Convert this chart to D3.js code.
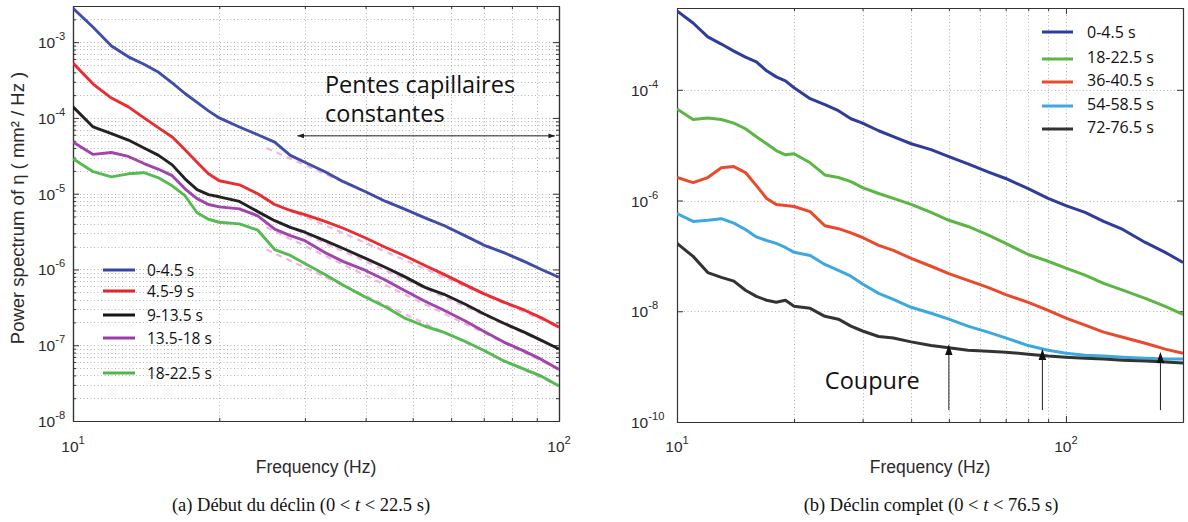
<!DOCTYPE html>
<html><head><meta charset="utf-8">
<script src="https://cdn.jsdelivr.net/npm/d3@7"></script>
<style>body{margin:0;background:#fff}svg{display:block}</style>
</head><body>
<svg id="c" width="1188" height="522"></svg>
<script>
// ---------- DATA ----------
const leftFreq = [10,11,12,13,14,15,16,17,18,19,20,22,24,26,28,30,33,36,40,44,48,53,58,64,70,77,85,92,100];
const leftSeriesNames = ["0-4.5 s","4.5-9 s","9-13.5 s","13.5-18 s","18-22.5 s"];
const left_0_45 = [2.8e-3,1.57e-3,8.9e-4,6.4e-4,5.1e-4,4.0e-4,2.9e-4,2.1e-4,1.6e-4,1.24e-4,1.0e-4,7.6e-5,6.0e-5,4.8e-5,3.2e-5,2.6e-5,1.95e-5,1.44e-5,1.06e-5,7.9e-6,6.3e-6,4.8e-6,3.8e-6,2.8e-6,2.1e-6,1.67e-6,1.27e-6,1.0e-6,7.9e-7];
const left_45_9 = [5.3e-4,2.8e-4,1.83e-4,1.4e-4,1.0e-4,7.4e-5,5.6e-5,3.8e-5,2.6e-5,1.83e-5,1.48e-5,1.31e-5,1.0e-5,7.2e-6,6.0e-6,5.3e-6,4.3e-6,3.5e-6,2.6e-6,1.95e-6,1.53e-6,1.13e-6,8.6e-7,6.3e-7,4.8e-7,3.7e-7,2.9e-7,2.3e-7,1.73e-7];
const left_9_135 = [1.4e-4,7.6e-5,6.2e-5,5.1e-5,4.0e-5,3.2e-5,2.4e-5,1.57e-5,1.13e-5,9.7e-6,9.1e-6,7.9e-6,5.8e-6,4.4e-6,3.6e-6,3.1e-6,2.4e-6,1.89e-6,1.4e-6,1.06e-6,8.1e-7,5.8e-7,4.7e-7,3.5e-7,2.6e-7,1.95e-7,1.48e-7,1.16e-7,8.9e-8];
const left_135_18 = [4.8e-5,3.3e-5,3.5e-5,3.1e-5,2.5e-5,2.1e-5,1.73e-5,1.16e-5,8.6e-6,7.2e-6,6.7e-6,6.3e-6,5.1e-6,3.4e-6,2.8e-6,2.4e-6,1.67e-6,1.27e-6,9.7e-7,7.2e-7,5.3e-7,3.8e-7,2.9e-7,2.1e-7,1.53e-7,1.1e-7,8.3e-8,6.5e-8,4.8e-8];
const left_18_225 = [2.9e-5,1.95e-5,1.67e-5,1.83e-5,1.89e-5,1.62e-5,1.27e-5,9.4e-6,5.6e-6,4.6e-6,4.2e-6,4.0e-6,3.3e-6,1.83e-6,1.53e-6,1.2e-6,8.6e-7,6.2e-7,4.3e-7,3.2e-7,2.3e-7,1.78e-7,1.48e-7,1.13e-7,8.6e-8,6.2e-8,4.8e-8,3.9e-8,2.9e-8];
// capillary power-law fits (pink dashed), endpoints
const fitFreq = [25, 100];
const fitValues = [[4.0e-5,7.9e-7],[8.3e-6,1.73e-7],[5.0e-6,8.9e-8],[3.6e-6,4.8e-8],[1.83e-6,2.9e-8]];

const rightFreq = [10,11,12,13,14,15,16,17,18,19,20,22,24,26,28,30,33,36,40,45,50,56,63,70,80,90,100,112,125,140,160,180,200];
const rightSeriesNames = ["0-4.5 s","18-22.5 s","36-40.5 s","54-58.5 s","72-76.5 s"];
const right_0_45 = [2.65e-3,1.61e-3,9.0e-4,6.7e-4,5.0e-4,3.9e-4,3.2e-4,2.2e-4,1.71e-4,1.45e-4,1.09e-4,6.9e-5,5.4e-5,4.2e-5,3.0e-5,2.5e-5,1.82e-5,1.42e-5,1.06e-5,8.3e-6,6.2e-6,4.6e-6,3.3e-6,2.5e-6,1.64e-6,1.09e-6,8.1e-7,6.1e-7,4.2e-7,3.0e-7,1.75e-7,1.16e-7,7.6e-8];
const right_18_225 = [4.5e-5,2.9e-5,3.1e-5,2.9e-5,2.5e-5,1.98e-5,1.42e-5,1.06e-5,8.0e-6,6.7e-6,7.0e-6,4.8e-6,2.9e-6,2.6e-6,2.2e-6,1.71e-6,1.34e-6,1.09e-6,8.5e-7,6.1e-7,4.4e-7,3.4e-7,2.4e-7,1.68e-7,1.06e-7,8.0e-8,6.0e-8,4.5e-8,3.2e-8,2.4e-8,1.71e-8,1.23e-8,8.8e-9];
const right_36_405 = [2.6e-6,2.1e-6,2.6e-6,3.9e-6,4.1e-6,3.2e-6,1.86e-6,1.09e-6,8.5e-7,8.1e-7,7.8e-7,6.3e-7,3.5e-7,3.1e-7,2.6e-7,2.15e-7,1.55e-7,1.26e-7,9.0e-8,6.5e-8,4.8e-8,3.6e-8,2.7e-8,2.0e-8,1.45e-8,1.04e-8,7.5e-9,5.6e-9,4.2e-9,3.4e-9,2.65e-9,2.07e-9,1.75e-9];
const right_54_585 = [5.8e-7,4.2e-7,4.4e-7,4.7e-7,3.9e-7,3.0e-7,2.2e-7,1.9e-7,1.68e-7,1.42e-7,1.16e-7,1.02e-7,7.0e-8,5.5e-8,4.3e-8,3.1e-8,2.1e-8,1.64e-8,1.18e-8,9.2e-9,7.2e-9,5.4e-9,4.2e-9,3.3e-9,2.4e-9,1.98e-9,1.75e-9,1.61e-9,1.55e-9,1.48e-9,1.42e-9,1.37e-9,1.37e-9];
const right_72_765 = [1.68e-7,9.8e-8,5.0e-8,4.1e-8,3.5e-8,2.4e-8,1.86e-8,1.58e-8,1.45e-8,1.58e-8,1.23e-8,1.13e-8,8.1e-9,7.2e-9,5.4e-9,4.4e-9,3.5e-9,3.3e-9,2.8e-9,2.4e-9,2.2e-9,1.98e-9,1.9e-9,1.82e-9,1.68e-9,1.55e-9,1.48e-9,1.42e-9,1.37e-9,1.31e-9,1.26e-9,1.21e-9,1.16e-9];

// annotations (data coordinates)
const slopeArrowFreq = [29, 98];
const slopeArrowLevel = 5.8e-5;
const cutoffFreqs = [50, 87, 175];
const cutoffTips = [2.4e-9, 1.98e-9, 1.75e-9];
const cutoffBase = 1.64e-10;

const leftYTicks = [-8,-7,-6,-5,-4,-3];
const rightYTicks = [-10,-8,-6,-4];
const xTickExps = [1,2];

// ---------- STYLE ----------
const leftColors = ["#3545a3","#e82226","#161616","#9b3ba6","#4cb848"];
const rightColors = ["#2e3d9c","#5cb644","#ea4a2b","#3ca8e0","#333333"];

const svg = d3.select("#c");
const defs = svg.append("defs");
defs.append("marker").attr("id","ah").attr("viewBox","0 0 10 10").attr("refX",9).attr("refY",5)
  .attr("markerWidth",7).attr("markerHeight",7).attr("orient","auto-start-reverse").attr("markerUnits","userSpaceOnUse")
  .append("path").attr("d","M0,1.5 L10,5 L0,8.5 z").attr("fill","#222");
defs.append("marker").attr("id","ahb").attr("viewBox","0 0 10 10").attr("refX",9).attr("refY",5)
  .attr("markerWidth",11).attr("markerHeight",11).attr("orient","auto").attr("markerUnits","userSpaceOnUse")
  .append("path").attr("d","M0,1.5 L10,5 L0,8.5 z").attr("fill","#111");

function minorVals(lo, hi) {
  const v = [];
  for (let k = -12; k <= 3; k++) for (let m = 1; m <= 9; m++) {
    const x = m * Math.pow(10, k);
    if (x >= lo * 0.9999 && x <= hi * 1.0001) v.push(+x.toPrecision(3));
  }
  return v;
}

function supText(g, x, y, exp, anchor, fs) {
  const t = g.append("text").attr("x", x).attr("y", y).attr("text-anchor", anchor)
    .attr("font-family","Liberation Sans, Arial, sans-serif").attr("font-size", fs).attr("fill","#2a2a2a");
  t.append("tspan").text("10");
  t.append("tspan").attr("dy", -8).attr("font-size", fs * 0.72).text(exp);
  return t;
}

function panel(o) {
  const g = svg.append("g");
  const x = d3.scaleLog().domain(o.xd).range([o.x0, o.x1]);
  const y = d3.scaleLog().domain(o.yd).range([o.y1, o.y0]);
  const grid = g.append("g").attr("stroke","#b4b4b4").attr("stroke-width",1).attr("stroke-dasharray","1,2.5");
  grid.selectAll(".gx").data(o.xGrid).join("line")
    .attr("x1", d => Math.round(x(d)) + 0.5).attr("x2", d => Math.round(x(d)) + 0.5)
    .attr("y1", o.y0).attr("y2", o.y1);
  grid.selectAll(".gy").data(o.yGrid).join("line")
    .attr("y1", d => Math.round(y(d)) + 0.5).attr("y2", d => Math.round(y(d)) + 0.5)
    .attr("x1", o.x0).attr("x2", o.x1);

  const mk = (fn, sc, vals, size, tr) => {
    const s = g.append("g").attr("transform", tr)
      .call(fn(sc).tickValues(vals).tickSize(size).tickSizeOuter(0).tickFormat(""));
    s.select(".domain").attr("stroke","#333").attr("stroke-width",1.2);
    s.selectAll(".tick line").attr("stroke","#333");
  };
  const xMaj = xTickExps.map(e => Math.pow(10, e)).filter(v => v >= o.xd[0] && v <= o.xd[1]);
  const xMin = minorVals(o.xd[0], o.xd[1]).filter(v => !xMaj.includes(v));
  const yMaj = o.yTicks.map(e => Math.pow(10, e));
  mk(d3.axisBottom, x, xMaj, -6, `translate(0,${o.y1})`);
  mk(d3.axisBottom, x, xMin, -3, `translate(0,${o.y1})`);
  mk(d3.axisTop, x, xMaj, -6, `translate(0,${o.y0})`);
  mk(d3.axisTop, x, xMin, -3, `translate(0,${o.y0})`);
  mk(d3.axisLeft, y, yMaj, -6, `translate(${o.x0},0)`);
  mk(d3.axisRight, y, yMaj, -6, `translate(${o.x1},0)`);
  if (o.yMinorTicks) {
    const yMin = minorVals(o.yd[0], o.yd[1]).filter(v => !yMaj.some(m => Math.abs(m - v) / v < 1e-6));
    mk(d3.axisLeft, y, yMin, -3, `translate(${o.x0},0)`);
    mk(d3.axisRight, y, yMin, -3, `translate(${o.x1},0)`);
  }
  // tick labels
  o.yTicks.forEach(e => supText(g, o.yLabX, y(Math.pow(10, e)) + 6, "-" + (-e), "start", 15.5));
  xMaj.forEach(v => supText(g, x(v), 452, String(Math.round(Math.log10(v))), "middle", 15.5));
  // axis title
  g.append("text").attr("x", (o.x0 + o.x1) / 2 + o.xTitleDx).attr("y", 473).attr("text-anchor","middle")
    .attr("font-family","Liberation Sans, Arial, sans-serif").attr("font-size",17.5).attr("fill","#2a2a2a")
    .text("Frequency (Hz)");

  const clipId = "clip" + o.id;
  defs.append("clipPath").attr("id", clipId).append("rect")
    .attr("x", o.x0).attr("y", o.y0).attr("width", o.x1 - o.x0).attr("height", o.y1 - o.y0);
  const plot = g.append("g").attr("clip-path", `url(#${clipId})`);
  return {g, x, y, plot};
}

// ---------- LEFT PANEL ----------
const L = panel({id:"L", x0:73, x1:559, y0:6, y1:421, xd:[10,100], yd:[1e-8,3e-3],
  xGrid: minorVals(10,100), yGrid: minorVals(1e-8,3e-3), yTicks: leftYTicks, yMinorTicks: true,
  yLabX: 38, xTitleDx: 0});
const lineL = d3.line().x(d => L.x(d[0])).y(d => L.y(d[1]));
const leftSeries = [left_0_45, left_45_9, left_9_135, left_135_18, left_18_225];
fitValues.forEach(fv => {
  L.plot.append("path").attr("d", lineL(fitFreq.map((f, i) => [f, fv[i]])))
    .attr("fill","none").attr("stroke","#efb6e2").attr("stroke-width",2.2).attr("stroke-dasharray","6,5");
});
leftSeries.forEach((s, i) => {
  L.plot.append("path").attr("d", lineL(leftFreq.map((f, j) => [f, s[j]])))
    .attr("fill","none").attr("stroke", leftColors[i]).attr("stroke-width",2.9)
    .attr("stroke-linejoin","round").attr("stroke-opacity",0.95);
});
// slope annotation
L.g.append("line").attr("x1", L.x(slopeArrowFreq[0])).attr("x2", L.x(slopeArrowFreq[1]))
  .attr("y1", L.y(slopeArrowLevel)).attr("y2", L.y(slopeArrowLevel))
  .attr("stroke","#222").attr("stroke-width",1).attr("marker-start","url(#ah)").attr("marker-end","url(#ah)");
L.g.append("text").attr("x", L.x(33)).attr("y", 93).attr("font-family","Open Sans, sans-serif")
  .attr("font-size",23.5).attr("fill","#111").text("Pentes capillaires");
L.g.append("text").attr("x", L.x(33)).attr("y", 122).attr("font-family","Open Sans, sans-serif")
  .attr("font-size",23.5).attr("fill","#111").text("constantes");
// legend
const legL = [270, 291, 315, 338, 373];
leftSeriesNames.forEach((n, i) => {
  L.g.append("line").attr("x1",103).attr("x2",135).attr("y1",legL[i]).attr("y2",legL[i])
    .attr("stroke", leftColors[i]).attr("stroke-width",3);
  L.g.append("text").attr("x",147).attr("y",legL[i] + 5.5).attr("font-family","Open Sans, sans-serif")
    .attr("font-size",15.5).attr("fill","#111").text(n);
});
// y title
svg.append("text").attr("transform","translate(24,208) rotate(-90)").attr("text-anchor","middle")
  .attr("font-family","Liberation Sans, Arial, sans-serif").attr("font-size",18.5).attr("fill","#2a2a2a")
  .text("Power spectrum of \u03b7 ( mm\u00b2 / Hz )");

// ---------- RIGHT PANEL ----------
const R = panel({id:"R", x0:677, x1:1183, y0:8, y1:422, xd:[10,200], yd:[1e-10,3e-3],
  xGrid: minorVals(10,200), yGrid: [1e-8,1e-6,1e-4], yTicks: rightYTicks, yMinorTicks: false,
  yLabX: 631, xTitleDx: 0});
const lineR = d3.line().x(d => R.x(d[0])).y(d => R.y(d[1]));
const rightSeries = [right_0_45, right_18_225, right_36_405, right_54_585, right_72_765];
rightSeries.forEach((s, i) => {
  R.plot.append("path").attr("d", lineR(rightFreq.map((f, j) => [f, s[j]])))
    .attr("fill","none").attr("stroke", rightColors[i]).attr("stroke-width",3)
    .attr("stroke-linejoin","round");
});
cutoffFreqs.forEach((f, i) => {
  R.g.append("line").attr("x1", R.x(f)).attr("x2", R.x(f)).attr("y1", R.y(cutoffBase)).attr("y2", R.y(cutoffTips[i]))
    .attr("stroke","#222").attr("stroke-width",1).attr("marker-end","url(#ahb)");
});
R.g.append("text").attr("x", R.x(24)).attr("y", 389).attr("font-family","Open Sans, sans-serif")
  .attr("font-size",23.5).attr("fill","#111").text("Coupure");
const legR = [32, 57, 80, 104, 127];
rightSeriesNames.forEach((n, i) => {
  R.g.append("line").attr("x1",1042).attr("x2",1073).attr("y1",legR[i] + (i ? 2 : 0)).attr("y2",legR[i] + (i ? 2 : 0))
    .attr("stroke", rightColors[i]).attr("stroke-width",3);
  R.g.append("text").attr("x",1087).attr("y",legR[i] + 6).attr("font-family","Open Sans, sans-serif")
    .attr("font-size",16).attr("fill","#111").text(n);
});

// ---------- CAPTIONS ----------
function caption(cx, label, upper) {
  const t = svg.append("text").attr("x", cx).attr("y", 511).attr("text-anchor","middle")
    .attr("font-family","Liberation Serif, Times New Roman, serif").attr("font-size",18.5).attr("fill","#111");
  t.append("tspan").text(label + " (0 < ");
  t.append("tspan").attr("font-style","italic").text("t");
  t.append("tspan").text(" < " + upper + " s)");
}
caption(301, "(a) D\u00e9but du d\u00e9clin", "22.5");
caption(931, "(b) D\u00e9clin complet", "76.5");
</script>
</body></html>
